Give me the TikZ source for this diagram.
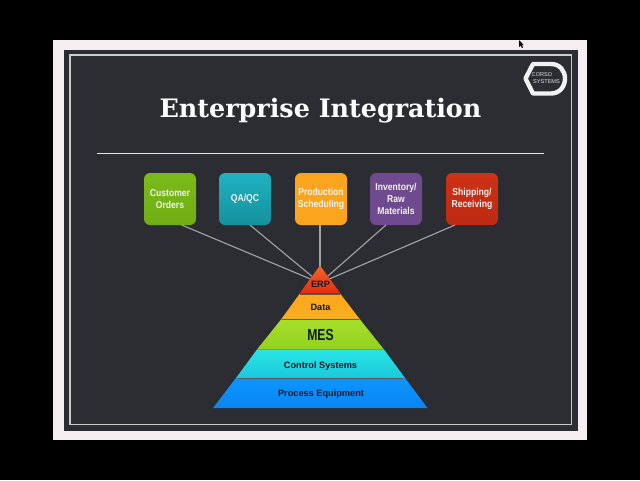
\documentclass[tikz,border=0pt]{standalone}
\usepackage{fontspec}
\setmainfont{Liberation Sans}
\newfontfamily\titlefont{DejaVu Serif}
\newfontfamily\narrowfont[FakeStretch=0.86]{Liberation Sans}
\newfontfamily\tallfont[FakeStretch=0.76]{Liberation Sans}
\usetikzlibrary{calc}
\definecolor{slide}{HTML}{2B2D33}
\definecolor{paper}{HTML}{F4EEF0}
\definecolor{wire}{HTML}{A3A5A5}
\definecolor{tiertext}{HTML}{0F1B26}
\definecolor{tileA}{HTML}{7ABA18}
\definecolor{tileAb}{HTML}{70AE14}
\definecolor{tileB}{HTML}{1FB2C2}
\definecolor{tileBb}{HTML}{15919C}
\definecolor{tileC}{HTML}{FBA51E}
\definecolor{tileD}{HTML}{6F4A8E}
\definecolor{tileE}{HTML}{CC3216}
\definecolor{tileEb}{HTML}{BE2A12}
\definecolor{PA}{HTML}{F4682C}
\definecolor{PB}{HTML}{E8280C}
\definecolor{PC}{HTML}{FFA51E}
\definecolor{PD}{HTML}{F6B01E}
\definecolor{PE}{HTML}{A6DE2C}
\definecolor{PF}{HTML}{94D01E}
\definecolor{PG}{HTML}{28E4E4}
\definecolor{PH}{HTML}{1CC8DC}
\definecolor{PI}{HTML}{0C96FF}
\definecolor{PJ}{HTML}{0A84F4}
\tikzset{
  tile/.style={minimum width=52pt,minimum height=52pt,rounded corners=6pt,inner sep=0pt,
    align=center,text=white!95!black,font=\narrowfont\bfseries\fontsize{10}{12.2}\selectfont},
  wireline/.style={draw=wire,line width=1.1pt},
  tierlabel/.style={inner sep=0pt,text=tiertext,font=\bfseries\fontsize{9.2}{11}\selectfont},
  ledge/.style={line width=1.1pt,draw=black!65},
}
\begin{document}
\begin{tikzpicture}[x=1pt,y=-1pt]
\useasboundingbox (0,0) rectangle (640,480);
\fill[black] (0,0) rectangle (640,480);
\fill[paper] (53,40) rectangle (587,440);
\fill[slide] (63.5,50) rectangle (577.5,430.5);
\draw[draw=white!80!black,line width=1.1pt] (70,55) rectangle (571.5,424.5);
% cursor
\fill[black] (519,40) -- (519,47) -- (520.6,45.6) -- (522,48) -- (523,47.4) -- (521.8,45) -- (523.6,45) -- cycle;
% logo
\draw[white!95!black,line width=4.4pt,line join=round] (525.5,78.5) -- (533,64) -- (551,64)
  .. controls (560,64) and (565,71) .. (565,78.5)
  .. controls (565,86) and (560,93.5) .. (551,93.5) -- (533,93.5) -- cycle;
\node[inner sep=0pt,text=white!90!black,font=\fontsize{5.6}{6}\selectfont] (logoa) at (542,75) {CORSO};
\node[inner sep=0pt,text=white!90!black,font=\fontsize{5.6}{6}\selectfont] (logob) at (546.5,81.7) {SYSTEMS};
% title
\node[inner sep=0pt,text=white,font=\titlefont\bfseries\fontsize{25.4}{30}\selectfont] (title) at (320.5,110.5) {Enterprise Integration};
% rule
\coordinate (ruleL) at (97,153.5);
\coordinate (ruleR) at (544,153.5);
\draw[white!90!black,line width=1pt] (ruleL) -- (ruleR);
% tiles
\node[tile,top color=tileA,bottom color=tileAb] (b1) at (170,199) {Customer\\Orders};
\node[tile,top color=tileB,bottom color=tileBb] (b2) at (245,199) {QA/QC};
\node[tile,fill=tileC] (b3) at (321,199) {Production\\Scheduling};
\node[tile,fill=tileD] (b4) at (396,199) {Inventory/\\Raw\\Materials};
\node[tile,top color=tileE,bottom color=tileEb] (b5) at (472,199) {Shipping/\\Receiving};
% hub behind pyramid
\coordinate (hub) at (320,283);
\coordinate (t1) at (181.7,225);
\coordinate (t2) at (250,225);
\coordinate (t3) at (320,225);
\coordinate (t4) at (386,225);
\coordinate (t5) at (455,225);
\draw[wireline] (t1) -- (hub);
\draw[wireline] (t2) -- (hub);
\draw[wireline] (t3) -- (hub);
\draw[wireline] (t4) -- (hub);
\draw[wireline] (t5) -- (hub);
% pyramid
\shade[top color=PA,bottom color=PB] (320,265.5) -- (299.5,293.5) -- (340.5,293.5) -- cycle;
\shade[top color=PC,bottom color=PD] (299.5,294) -- (340.5,294) -- (360,319.5) -- (281,319.5) -- cycle;
\shade[top color=PE,bottom color=PF] (281,319.5) -- (360,319.5) -- (384,349.5) -- (257,349.5) -- cycle;
\shade[top color=PG,bottom color=PH] (257,349.5) -- (384,349.5) -- (405,378) -- (236,378) -- cycle;
\shade[top color=PI,bottom color=PJ] (236,378) -- (405,378) -- (427.5,408) -- (213,408) -- cycle;
\draw[ledge] (300,294.3) -- (340,294.3);
\draw[ledge] (282,319.5) -- (359,319.5);
\draw[ledge] (238,378.3) -- (403,378.3);
\node[tierlabel] (erp) at (320.5,284) {ERP};
\node[tierlabel] (data) at (320.5,307.5) {Data};
\node[tierlabel,font=\tallfont\bfseries\fontsize{16}{18}\selectfont] (mes) at (320.5,335) {MES};
\node[tierlabel] (ctl) at (320.5,366) {Control Systems};
\node[tierlabel] (proc) at (321,393.7) {Process Equipment};
\end{tikzpicture}
\end{document}
